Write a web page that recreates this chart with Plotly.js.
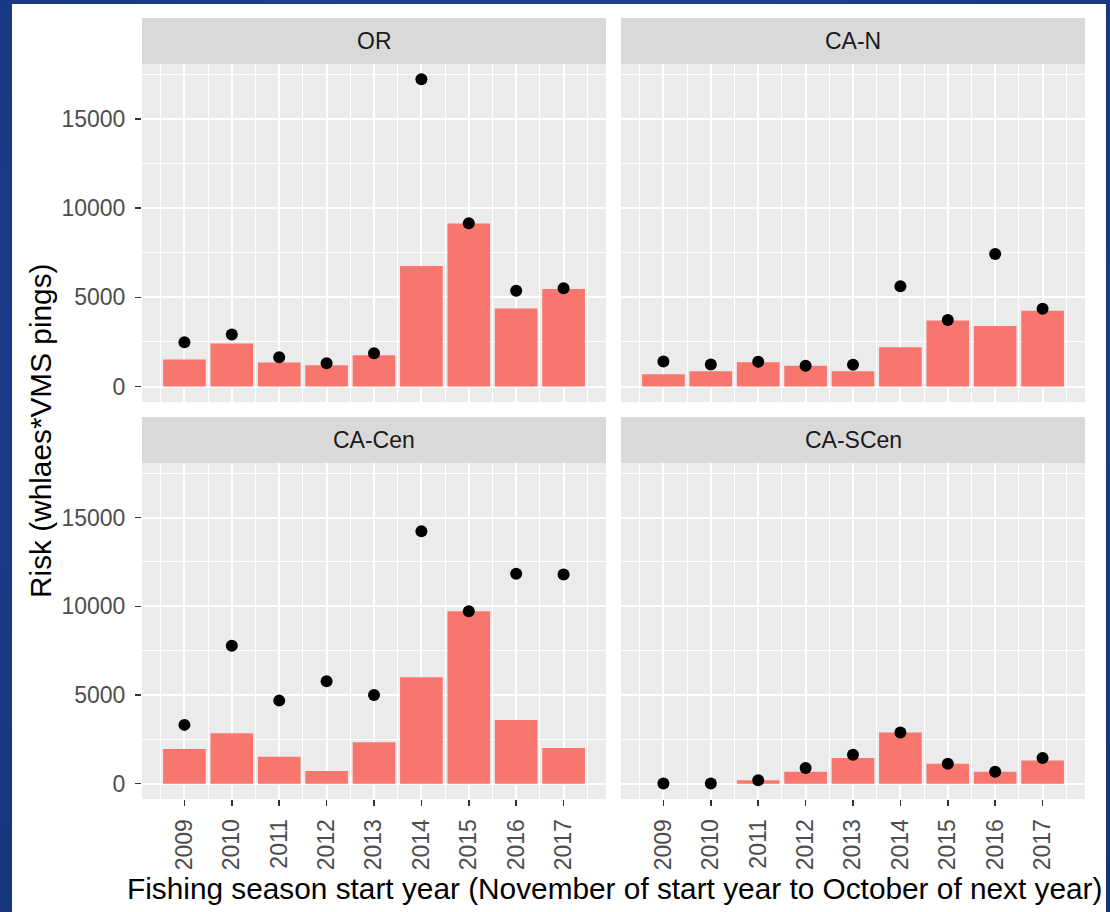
<!DOCTYPE html>
<html>
<head>
<meta charset="utf-8">
<script src="https://cdn.plot.ly/plotly-3.0.1.min.js"></script>
<style>
  html, body { margin: 0; padding: 0; width: 1110px; height: 912px; overflow: hidden;
    background: radial-gradient(circle at 50% 40%, #2150a3 0%, #1a3f8f 60%, #15347a 100%); }
  #chart { position: absolute; left: 12px; top: 4px; width: 1094px; height: 908px; background: #ffffff; }
</style>
</head>
<body>
<div id="chart"></div>
<script>
// ---- data ----
const years = [2009, 2010, 2011, 2012, 2013, 2014, 2015, 2016, 2017];
const regions = ["OR", "CA-N", "CA-Cen", "CA-SCen"];
const orBars      = [1517, 2416, 1348, 1198, 1760, 6760, 9137, 4382, 5468];
const orPoints    = [2489, 2921, 1648, 1311, 1873, 17230, 9157, 5375, 5506];
const caNBars     = [693, 861, 1367, 1161, 861, 2210, 3708, 3389, 4251];
const caNPoints   = [1404, 1236, 1390, 1161, 1217, 5618, 3727, 7434, 4363];
const caCenBars   = [1948, 2847, 1517, 711, 2341, 5993, 9719, 3595, 2004];
const caCenPoints = [3314, 7771, 4682, 5768, 5000, 14232, 9719, 11835, 11798];
const caSCenBars  = [0, 0, 187, 674, 1442, 2884, 1124, 674, 1311];
const caSCenPoints= [10, 10, 187, 880, 1629, 2884, 1124, 674, 1442];
const yTickVals   = [0, 5000, 10000, 15000];
const yTickText   = ["0", "5000", "10000", "15000"];
const xTickText   = ["2009", "2010", "2011", "2012", "2013", "2014", "2015", "2016", "2017"];
const yTitle = "Risk (whlaes*VMS pings)";
const xTitle = "Fishing season start year (November of start year to October of next year)";

// ---- layout geometry (pixels in the 1094x908 chart div) ----
const W = 1094, H = 908;
const colX = [[130, 594], [609, 1073]];
const rowY = [[60, 398], [459, 795]];      // plot area top/bottom
const stripY = [[14, 60], [413, 459]];     // strip top/bottom
const px = v => v / W;
const py = v => 1 - v / H;

const FONT = "Liberation Sans, Arial, sans-serif";
const barColor = "#F8766D";
const seriesBars = [orBars, caNBars, caCenBars, caSCenBars];
const seriesPts = [orPoints, caNPoints, caCenPoints, caSCenPoints];

const traces = [];
const layout = {
  width: W, height: H,
  margin: {l: 0, r: 0, t: 0, b: 0},
  paper_bgcolor: "#ffffff",
  plot_bgcolor: "#EBEBEB",
  showlegend: false,
  font: {family: FONT, color: "#4D4D4D", size: 23},
  shapes: [], annotations: []
};

for (let i = 0; i < 4; i++) {
  const r = Math.floor(i / 2), c = i % 2;
  const sfx = i === 0 ? "" : String(i + 1);
  traces.push({
    type: "bar", x: years, y: seriesBars[i], width: 0.9,
    marker: {color: barColor, line: {width: 0}},
    xaxis: "x" + sfx, yaxis: "y" + sfx, hoverinfo: "x+y"
  });
  traces.push({
    type: "scatter", mode: "markers", x: years, y: seriesPts[i],
    marker: {color: "#000000", size: 12},
    xaxis: "x" + sfx, yaxis: "y" + sfx, hoverinfo: "x+y"
  });
  const bottom = r === 1, left = c === 0;
  layout["xaxis" + sfx] = {
    domain: [px(colX[c][0]), px(colX[c][1])],
    anchor: "y" + sfx,
    range: [2008.105, 2017.895],
    tickmode: "array", tickvals: years, ticktext: xTickText,
    showticklabels: bottom, ticks: bottom ? "outside" : "",
    ticklen: 6, tickwidth: 1.5, tickcolor: "#333333",
    tickangle: -90, ticklabelstandoff: 4,
    tickfont: {family: FONT, size: 23, color: "#4D4D4D"},
    showgrid: true, gridcolor: "#FFFFFF", gridwidth: 2,
    minor: {tickmode: "linear", tick0: 2008.5, dtick: 1, showgrid: true, gridcolor: "#FFFFFF", gridwidth: 1, ticks: ""},
    zeroline: false, showline: false, fixedrange: true
  };
  layout["yaxis" + sfx] = {
    domain: [py(rowY[r][1]), py(rowY[r][0])],
    anchor: "x" + sfx,
    range: [-865, 18080],
    tickmode: "array", tickvals: yTickVals, ticktext: yTickText,
    showticklabels: left, ticks: left ? "outside" : "",
    ticklen: 6, tickwidth: 1.5, tickcolor: "#333333",
    ticklabelstandoff: 5,
    tickfont: {family: FONT, size: 23, color: "#4D4D4D"},
    showgrid: true, gridcolor: "#FFFFFF", gridwidth: 2,
    minor: {tickmode: "linear", tick0: 0, dtick: 2500, showgrid: true, gridcolor: "#FFFFFF", gridwidth: 1, ticks: ""},
    zeroline: false, showline: false, fixedrange: true
  };
  // strip
  layout.shapes.push({
    type: "rect", xref: "paper", yref: "paper", layer: "below",
    x0: px(colX[c][0]), x1: px(colX[c][1]),
    y0: py(stripY[r][1]), y1: py(stripY[r][0]),
    fillcolor: "#D9D9D9", line: {width: 0}
  });
  layout.annotations.push({
    xref: "paper", yref: "paper", showarrow: false,
    x: px((colX[c][0] + colX[c][1]) / 2), y: py((stripY[r][0] + stripY[r][1]) / 2),
    xanchor: "center", yanchor: "middle",
    text: regions[i], font: {family: FONT, size: 23, color: "#1A1A1A"}
  });
}
layout.annotations.push({
  xref: "paper", yref: "paper", showarrow: false,
  x: px(29), y: py(427), xanchor: "center", yanchor: "middle", textangle: -90,
  text: yTitle, font: {family: FONT, size: 29.8, color: "#000000"}
});
layout.annotations.push({
  xref: "paper", yref: "paper", showarrow: false,
  x: px(602), y: py(884), xanchor: "center", yanchor: "middle",
  text: xTitle, font: {family: FONT, size: 29.8, color: "#000000"}
});

Plotly.newPlot("chart", traces, layout, {displayModeBar: false, staticPlot: true});
</script>
</body>
</html>
